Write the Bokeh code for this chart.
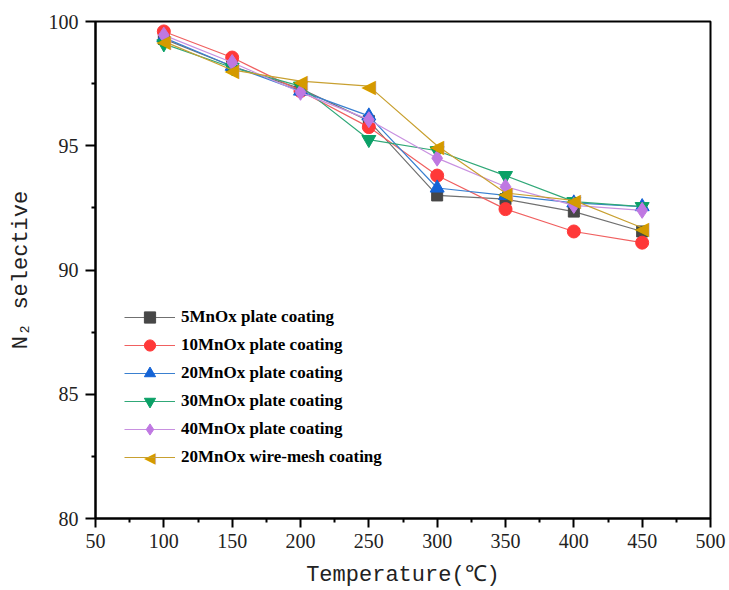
from bokeh.plotting import figure
from bokeh.models import Range1d, FixedTicker, Legend, LegendItem, Label
from bokeh.core.properties import value
from bokeh.embed import file_html
from bokeh.resources import INLINE

temps = [100, 150, 200, 250, 300, 350, 400, 450]
s5 = [99.3, 98.2, 97.3, 96.0, 93.0, 92.85, 92.35, 91.55]
s10 = [99.6, 98.55, 97.2, 95.75, 93.8, 92.45, 91.55, 91.1]
s20 = [99.35, 98.2, 97.2, 96.2, 93.3, 93.0, 92.7, 92.55]
s30 = [99.1, 98.15, 97.4, 95.25, 94.8, 93.8, 92.75, 92.55]
s40 = [99.45, 98.35, 97.15, 96.05, 94.5, 93.35, 92.6, 92.4]
swire = [99.2, 98.05, 97.6, 97.4, 95.0, 93.1, 92.8, 91.7]

labels = ["5MnOx plate coating", "10MnOx plate coating", "20MnOx plate coating",
          "30MnOx plate coating", "40MnOx plate coating", "20MnOx wire-mesh coating"]
x_ticks = [50, 100, 150, 200, 250, 300, 350, 400, 450, 500]
y_ticks = [80, 85, 90, 95, 100]

series = [s5, s10, s20, s30, s40, swire]
colors = ["#474747", "#ff3838", "#1463d6", "#0aa066", "#bf78e2", "#d49a00"]
line_colors = ["#707070", "#f06060", "#3a80d0", "#30a878", "#c890e0", "#c8a030"]
markers = ["square", "circle", "triangle", "inverted_triangle", "diamond", None]
sizes = [11, 13, 14, 14, 16, 0]

p = figure(width=729, height=590, output_backend="svg", toolbar_location=None,
           x_range=Range1d(50, 500), y_range=Range1d(80, 100),
           min_border_left=95, min_border_right=19, min_border_top=21, min_border_bottom=71)

p.xgrid.visible = False
p.ygrid.visible = False
p.outline_line_color = "black"
p.outline_line_width = 2
p.background_fill_color = "white"
p.border_fill_color = "white"

items = []
for ys, c, lc, m, s, lab in zip(series, colors, line_colors, markers, sizes, labels):
    r1 = p.line(temps, ys, line_color=lc, line_width=1.2)
    if m is not None:
        r2 = p.scatter(temps, ys, marker=m, size=s, fill_color=c, line_color=c)
    else:
        # left-pointing triangle marker
        r2 = p.text(temps, ys, text=["◀"] * len(temps), text_align="center",
                    text_baseline="middle", text_color=c,
                    text_font=value("DejaVu Sans"), text_font_size="19px")
    items.append(LegendItem(label=lab, renderers=[r1, r2]))

legend = Legend(items=items, location=(29, 47), padding=0, margin=0,
                glyph_width=51, glyph_height=28, label_height=28, spacing=0,
                label_standoff=6, border_line_color=None, background_fill_alpha=0,
                label_text_font="Liberation Serif", label_text_font_style="bold",
                label_text_font_size="17px", label_text_color="black")
p.add_layout(legend, "center")

# legend symbol for the left-pointing triangle series
p.add_layout(Label(x=54.5, y=61, x_units="screen", y_units="screen", text="◀",
                   text_align="center", text_baseline="middle", text_color=colors[5],
                   text_font="DejaVu Sans", text_font_size="15px"))

for ax in [p.xaxis[0], p.yaxis[0]]:
    ax.axis_line_width = 2
    ax.axis_line_color = "black"
    ax.major_tick_line_width = 2
    ax.minor_tick_line_width = 2
    ax.major_tick_line_color = "black"
    ax.minor_tick_line_color = "black"
    ax.major_tick_in = 0
    ax.minor_tick_in = 0
    ax.major_tick_out = 9
    ax.minor_tick_out = 4
    ax.major_label_text_font = "Liberation Serif"
    ax.major_label_text_font_size = "20px"
    ax.major_label_text_color = "#222222"
    ax.axis_label_text_font = "Liberation Mono"
    ax.axis_label_text_font_style = "normal"
    ax.axis_label_text_font_size = "22px"
    ax.axis_label_text_color = "#222222"

p.xaxis[0].ticker = FixedTicker(ticks=x_ticks, minor_ticks=[75 + 50 * i for i in range(9)])
p.yaxis[0].ticker = FixedTicker(ticks=y_ticks, minor_ticks=[82.5 + 5 * i for i in range(4)])
p.xaxis[0].major_label_standoff = 6
p.yaxis[0].major_label_standoff = 7
p.yaxis[0].major_tick_out = 10
p.xaxis[0].axis_label = "Temperature(℃)"
p.yaxis[0].axis_label = "N₂ selective"
p.xaxis[0].axis_label_standoff = 12
p.yaxis[0].axis_label_standoff = 12

open("out.html", "w").write(file_html(p, INLINE))
